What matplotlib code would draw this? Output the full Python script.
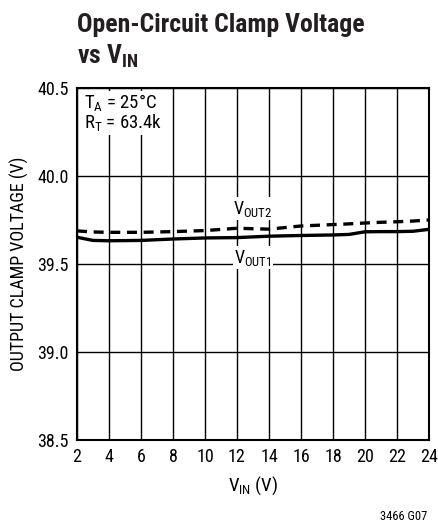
import matplotlib
matplotlib.use("Agg")
import matplotlib.pyplot as plt

FONT = 'Roboto Condensed'
plt.rcParams['font.family'] = [FONT, 'DejaVu Sans']
plt.rcParams['mathtext.fontset'] = 'custom'
plt.rcParams['mathtext.rm'] = FONT
plt.rcParams['mathtext.bf'] = FONT + ':bold'

# data
vin = [2, 3, 4, 6, 8, 10, 12, 14, 16, 18, 19, 20, 21, 22, 23, 24]
vout1 = [39.652, 39.634, 39.632, 39.634, 39.642, 39.648, 39.650, 39.658, 39.662, 39.665, 39.668, 39.683, 39.684, 39.684, 39.686, 39.697]
vout2 = [39.688, 39.682, 39.680, 39.680, 39.684, 39.690, 39.703, 39.698, 39.716, 39.724, 39.728, 39.733, 39.737, 39.740, 39.744, 39.750]
xticks = [2, 4, 6, 8, 10, 12, 14, 16, 18, 20, 22, 24]
yticks = [38.5, 39.0, 39.5, 40.0, 40.5]

W, H = 438, 523
fig = plt.figure(figsize=(W/100, H/100), dpi=100)
ax = fig.add_axes([77/W, 1-440/H, 352/W, 352/H])
ax.set_xlim(2, 24)
ax.set_ylim(38.5, 40.5)
ax.set_xticks(xticks)
ax.set_yticks(yticks)
ax.set_xticklabels([str(t) for t in xticks], fontsize=13)
ax.set_yticklabels([f"{t:.1f}" for t in yticks], fontsize=13)
ax.tick_params(length=0, pad=6)
ax.grid(True, color='black', linewidth=1.0)
for s in ax.spines.values():
    s.set_linewidth(1.5)
ax.set_axisbelow(True)

ax.plot(vin, vout1, color='black', linewidth=2.4, solid_capstyle='butt')
ax.plot(vin, vout2, color='black', linewidth=2.4, linestyle=(0, (3, 2)))

bbox = dict(facecolor='white', edgecolor='none', pad=1)
ax.text(2.45, 40.385, r'T$_\mathregular{A}$ = 25°C', fontsize=13.5, va='baseline', ha='left', bbox=bbox)
ax.text(2.45, 40.27, r'R$_\mathregular{T}$ = 63.4k', fontsize=13.5, va='baseline', ha='left', bbox=bbox)
ax.text(13.0, 39.815, r'V$_\mathregular{OUT2}$', fontsize=13, ha='center', va='center', bbox=bbox)
ax.text(13.0, 39.535, r'V$_\mathregular{OUT1}$', fontsize=13, ha='center', va='center', bbox=bbox)

ax.set_xlabel(r'V$_\mathregular{IN}$ (V)', fontsize=13.5, labelpad=6)
ax.set_ylabel('OUTPUT CLAMP VOLTAGE (V)', fontsize=13, labelpad=6)

fig.text(77/W, 1-32/H, 'Open-Circuit Clamp Voltage', fontsize=18.5, fontweight='bold',
         va='baseline', ha='left', color='#231f20')
fig.text(77/W, 1-64/H, 'vs V$_\\mathbf{IN}$', fontsize=18.5, fontweight='bold',
         va='baseline', ha='left', color='#231f20')
fig.text(427/W, 1-517/H, '3466 G07', fontsize=9, ha='right', va='center')

fig.savefig('out.png', dpi=100)
